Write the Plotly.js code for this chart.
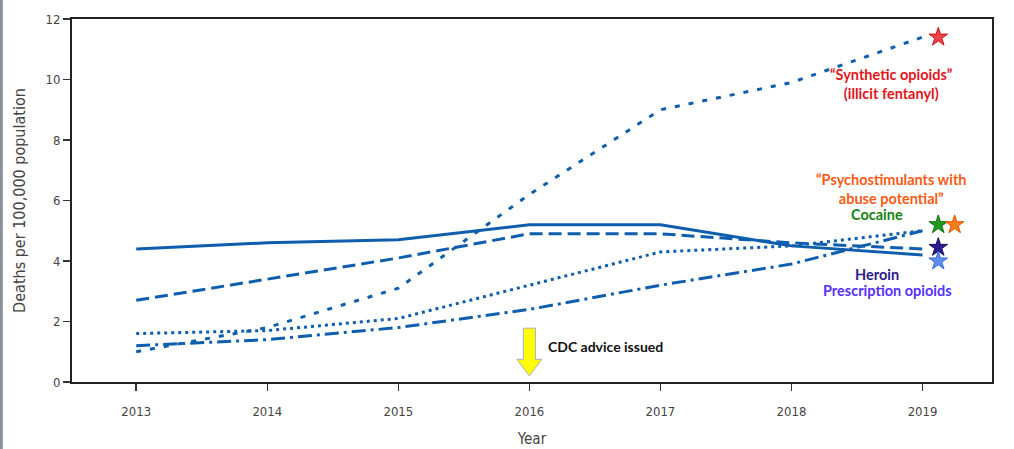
<!DOCTYPE html>
<html>
<head>
<meta charset="utf-8">
<script src="https://cdn.plot.ly/plotly-3.0.1.min.js"></script>
<style>html,body{margin:0;padding:0;background:#fff;}#chart{width:1014px;height:449px;}</style>
</head>
<body>
<div id="chart"></div>
<script>
const years = [2013, 2014, 2015, 2016, 2017, 2018, 2019];
const prescriptionOpioids = [4.4, 4.6, 4.7, 5.2, 5.2, 4.5, 4.2];
const heroin = [2.7, 3.4, 4.1, 4.9, 4.9, 4.6, 4.4];
const syntheticOpioids = [1.0, 1.8, 3.1, 6.2, 9.0, 9.9, 11.4];
const cocaine = [1.6, 1.7, 2.1, 3.2, 4.3, 4.5, 5.0];
const psychostimulants = [1.2, 1.4, 1.8, 2.4, 3.2, 3.9, 5.0];

const starX = [2019.12, 2019.12, 2019.245, 2019.12, 2019.12];
const starY = [11.4, 5.2, 5.2, 4.45, 4.0];
const starColors = ['#f0454a', '#1f9a1f', '#ff7b1c', '#2a1a8c', '#5c8ef0'];
const starLines = ['#c8101a', '#137013', '#d85a00', '#1a0f66', '#3a6cd0'];

const labelTexts = ['“Synthetic opioids”<br>(illicit fentanyl)', '“Psychostimulants with<br>abuse potential”', 'Cocaine', 'Heroin', 'Prescription opioids'];
const labelX = [2018.76, 2018.76, 2018.65, 2018.65, 2018.73];
const labelY = [9.85, 6.38, 5.55, 3.54, 3.04];
const labelColors = ['#e3141c', '#ff5a14', '#138413', '#2e1a86', '#5530ff'];

const adviceYear = 2016;
const adviceText = 'CDC advice issued';

const blue = '#0f5eae';
function series(y, dash, name) {
  return {x: years, y: y, mode: 'lines', name: name, line: {color: blue, width: 3, dash: dash}, hoverinfo: 'skip'};
}
const data = [
  series(prescriptionOpioids, 'solid', 'Prescription opioids'),
  series(heroin, '13px,6px', 'Heroin'),
  series(syntheticOpioids, '5px,9px', 'Synthetic opioids'),
  series(cocaine, '3px,4px', 'Cocaine'),
  series(psychostimulants, '14px,5px,3px,5px', 'Psychostimulants'),
  {x: starX, y: starY, mode: 'markers', marker: {symbol: 'star', size: 14, color: starColors, line: {color: starLines, width: 1}}, hoverinfo: 'skip'}
];

const annotations = labelTexts.map((t, i) => ({
  x: labelX[i], y: labelY[i], xref: 'x', yref: 'y', text: '<b>' + t + '</b>', showarrow: false,
  xanchor: 'center', yanchor: 'middle', align: 'center',
  font: {family: 'Lato, Open Sans, sans-serif', size: 14.5, color: labelColors[i]}
}));
annotations.push({
  x: adviceYear + 0.13, y: 1.19, xref: 'x', yref: 'y', text: '<b>' + adviceText + '</b>', showarrow: false,
  xanchor: 'left', yanchor: 'middle', font: {family: 'Lato, Open Sans, sans-serif', size: 14, color: '#111'}
});

const bw = 0.046, hw = 0.095;
const arrowPath = 'M ' + (adviceYear - bw) + ',1.78 L ' + (adviceYear + bw) + ',1.78 L ' + (adviceYear + bw) + ',0.75 L ' +
  (adviceYear + hw) + ',0.75 L ' + adviceYear + ',0.2 L ' + (adviceYear - hw) + ',0.75 L ' + (adviceYear - bw) + ',0.75 Z';

const layout = {
  width: 1014, height: 449,
  margin: {l: 72, r: 22, t: 19, b: 67},
  paper_bgcolor: '#fff', plot_bgcolor: '#fff',
  showlegend: false,
  font: {family: 'Liberation Sans Narrow, DejaVu Sans Condensed, Arial Narrow, sans-serif', color: '#444'},
  xaxis: {
    range: [2012.51, 2019.53], tickvals: years, ticktext: years.map(String),
    showgrid: false, zeroline: false, showline: true, linecolor: '#222', linewidth: 2, mirror: true,
    ticks: 'outside', ticklen: 7, tickwidth: 1.5, tickcolor: '#333',
    ticklabelstandoff: 9,
    tickfont: {size: 13, color: '#444'},
    title: {text: 'Year', font: {size: 15, color: '#444'}, standoff: 16}
  },
  yaxis: {
    range: [0, 12], tickvals: [0, 2, 4, 6, 8, 10, 12],
    showgrid: false, zeroline: false, showline: true, linecolor: '#222', linewidth: 2, mirror: true,
    ticks: 'outside', ticklen: 7, tickwidth: 1.5, tickcolor: '#333',
    tickfont: {size: 13, color: '#444'},
    title: {text: 'Deaths per 100,000 population', font: {size: 16, color: '#444'}, standoff: 16}
  },
  annotations: annotations,
  shapes: [
    {type: 'path', xref: 'x', yref: 'y', path: arrowPath, fillcolor: '#ffff00', line: {color: '#aab0c0', width: 1}},
    {type: 'rect', xref: 'paper', yref: 'paper', x0: -0.0783, x1: -0.0752, y0: -0.185, y1: 1.06, fillcolor: '#8a909a', line: {width: 0}}
  ]
};

Plotly.newPlot('chart', data, layout, {displayModeBar: false, staticPlot: true});
</script>
</body>
</html>
